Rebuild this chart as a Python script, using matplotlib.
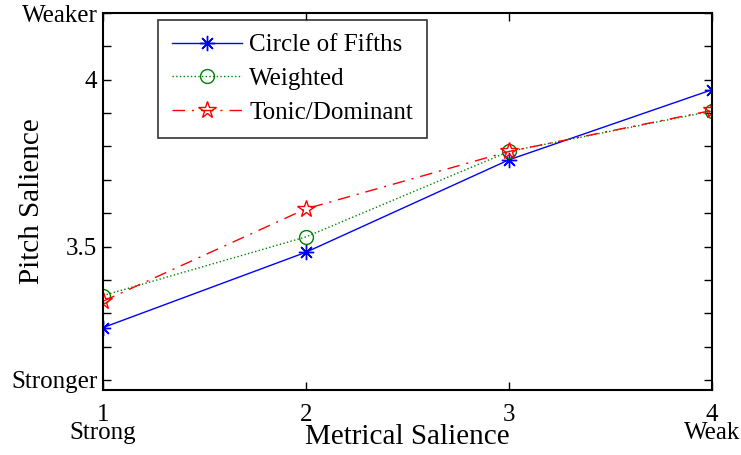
import matplotlib.pyplot as plt

plt.rcParams['font.family'] = ['Liberation Serif', 'DejaVu Serif']

# metrical positions and mean pitch salience for each key model
positions = [1, 2, 3, 4]
circle_of_fifths = [3.257, 3.483, 3.760, 3.970]
weighted = [3.353, 3.529, 3.785, 3.906]
tonic_dominant = [3.336, 3.613, 3.785, 3.908]

x_tick_labels = ["1\nStrong", "2", "3", "4\nWeak"]
y_ticks = [3.1, 3.2, 3.3, 3.4, 3.5, 3.6, 3.7, 3.8, 3.9, 4.0, 4.1, 4.2]
y_tick_labels = ["Stronger", "", "", "", "3.5", "", "", "", "", "4", "", "Weaker"]

fig = plt.figure(figsize=(7.41, 4.55), dpi=100)
ax = fig.add_axes([103 / 741, 1 - 390 / 455, 609 / 741, 377 / 455])

ax.plot(positions, circle_of_fifths, color="blue", linestyle="-", linewidth=1,
        marker=(8, 2, 0), markersize=11, markeredgewidth=1, label="Circle of Fifths")
ax.plot(positions, weighted, color="green", linestyle=":", linewidth=1,
        marker="o", markersize=10, markerfacecolor="none", markeredgewidth=1, label="Weighted")
ax.plot(positions, tonic_dominant, color="red", linestyle=(0, (9, 5, 1.5, 5)), linewidth=1,
        marker="*", markersize=13, markerfacecolor="none", markeredgewidth=1, label="Tonic/Dominant")

ax.set_xlim(1, 4)
ax.set_ylim(3.07, 4.2)
ax.set_xticks(positions)
ax.set_xticklabels(x_tick_labels, fontsize=18, linespacing=0.8)
ax.set_yticks(y_ticks)
ax.set_yticklabels(y_tick_labels, fontsize=18)
ax.tick_params(direction="in", top=True, right=True, length=6, width=1, pad=4)
ax.tick_params(axis="x", pad=10)

for s in ax.spines.values():
    s.set_linewidth(1.5)

ax.set_xlabel("Metrical Salience", fontsize=21, va="center")
ax.xaxis.set_label_coords(0.5, -0.125)
ax.set_ylabel("Pitch Salience", fontsize=21, va="center")
ax.yaxis.set_label_coords(-0.117, 0.5)

leg = ax.legend(loc="upper left", bbox_to_anchor=(0.09, 0.981), fontsize=18,
                frameon=True, fancybox=False, edgecolor="black", handlelength=2.8,
                borderpad=0.55, labelspacing=0.45, handletextpad=0.3, borderaxespad=0)
leg.get_frame().set_linewidth(1.2)

fig.savefig("out.png", dpi=100)
